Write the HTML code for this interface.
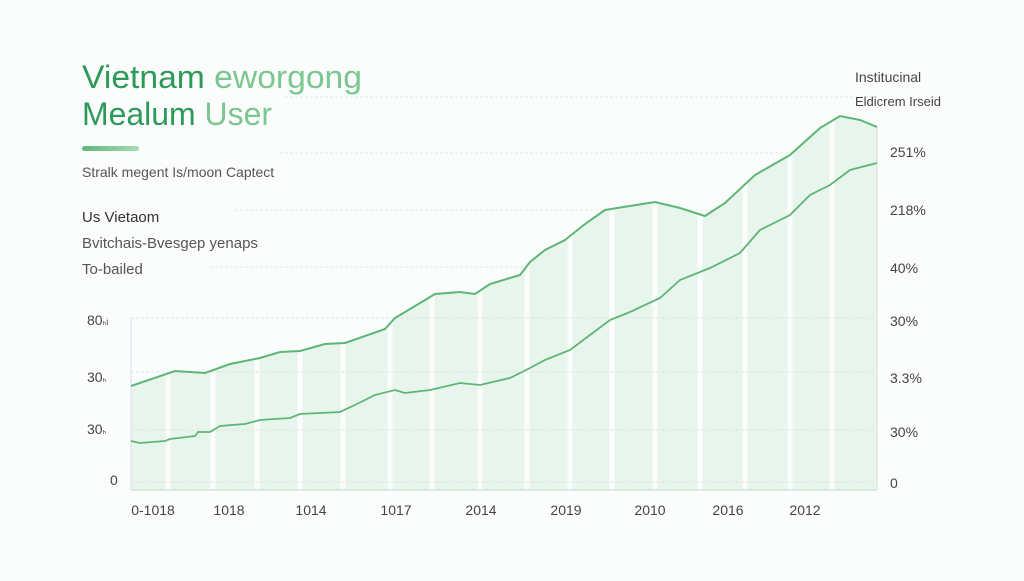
<!DOCTYPE html>
<html><head><meta charset="utf-8"><style>
body{margin:0;width:1024px;height:576px;background:#fbfcfc;overflow:hidden;font-family:"Liberation Sans",sans-serif}
</style></head><body>
<svg width="1024" height="576" viewBox="0 0 1024 576" xmlns="http://www.w3.org/2000/svg" font-family="Liberation Sans, sans-serif">
<defs><linearGradient id="g" x1="0" x2="1"><stop offset="0" stop-color="#5fb878"/><stop offset="1" stop-color="#a8dcb4"/></linearGradient>
<clipPath id="c"><path d="M131,386 L175,371 L205,373 L230,364 L260,358 L280,352 L300,351 L325,344 L345,343 L385,329 L395,318 L435,294 L460,292 L475,294 L490,284 L520,275 L530,262 L545,250 L565,240 L585,224 L605,210 L655,202 L680,208 L705,216 L725,203 L755,175 L790,155 L820,128 L840,116 L860,120 L877,127 L877,490 L131,490Z"/></clipPath></defs>
<text x="82" y="88" font-size="32" fill="#2e9a5a" textLength="280" lengthAdjust="spacingAndGlyphs">Vietnam <tspan fill="#7cc68f">eworgong</tspan></text>
<text x="82" y="125" font-size="32" fill="#2e9a5a" textLength="190" lengthAdjust="spacingAndGlyphs">Mealum <tspan fill="#7cc68f">User</tspan></text>
<rect x="82" y="146" width="57" height="5" rx="2.5" fill="url(#g)"/>
<text x="82" y="177" font-size="14" fill="#555">Stralk megent Is/moon Captect</text>
<text x="82" y="222" font-size="15" fill="#333">Us Vietaom</text>
<text x="82" y="248" font-size="15" fill="#555">Bvitchais-Bvesgep yenaps</text>
<text x="82" y="274" font-size="15" fill="#555">To-bailed</text>
<g stroke="#e6e8e8" stroke-dasharray="3 2" stroke-width="1">
<line x1="285" y1="97" x2="877" y2="97"/><line x1="280" y1="153" x2="877" y2="153"/><line x1="235" y1="210" x2="877" y2="210"/><line x1="210" y1="267" x2="877" y2="267"/>
</g>
<rect x="131" y="100" width="746" height="390" fill="#e8f5ec" clip-path="url(#c)"/>
<g stroke="#fbfcfc" stroke-width="5" clip-path="url(#c)">
<line x1="168" y1="100" x2="168" y2="490"/><line x1="213" y1="100" x2="213" y2="490"/><line x1="257" y1="100" x2="257" y2="490"/><line x1="300" y1="100" x2="300" y2="490"/><line x1="343" y1="100" x2="343" y2="490"/><line x1="390" y1="100" x2="390" y2="490"/><line x1="432" y1="100" x2="432" y2="490"/><line x1="480" y1="100" x2="480" y2="490"/><line x1="527" y1="100" x2="527" y2="490"/><line x1="570" y1="100" x2="570" y2="490"/><line x1="612" y1="100" x2="612" y2="490"/><line x1="655" y1="100" x2="655" y2="490"/><line x1="700" y1="100" x2="700" y2="490"/><line x1="745" y1="100" x2="745" y2="490"/><line x1="790" y1="100" x2="790" y2="490"/><line x1="832" y1="100" x2="832" y2="490"/>
</g>
<g stroke="#e2e4e4" stroke-dasharray="3 2"><line x1="131" y1="318" x2="877" y2="318"/><line x1="131" y1="372" x2="877" y2="372"/><line x1="131" y1="430" x2="877" y2="430"/><line x1="131" y1="482" x2="877" y2="482"/></g>
<line x1="131" y1="318" x2="131" y2="490" stroke="#dde"/>
<line x1="131" y1="490" x2="877" y2="490" stroke="#cfe5d6" stroke-width="1.5"/>
<line x1="877" y1="127" x2="877" y2="490" stroke="#cfe5d6"/>
<path d="M131,386 L175,371 L205,373 L230,364 L260,358 L280,352 L300,351 L325,344 L345,343 L385,329 L395,318 L435,294 L460,292 L475,294 L490,284 L520,275 L530,262 L545,250 L565,240 L585,224 L605,210 L655,202 L680,208 L705,216 L725,203 L755,175 L790,155 L820,128 L840,116 L860,120 L877,127" fill="none" stroke="#5fb577" stroke-width="2"/>
<path d="M131,441 L140,443 L165,441 L170,439 L195,436 L198,432 L210,432 L220,426 L245,424 L260,420 L290,418 L300,414 L340,412 L355,405 L375,395 L395,390 L405,393 L430,390 L460,383 L480,385 L510,378 L530,368 L545,360 L570,350 L590,335 L610,320 L630,312 L660,298 L680,280 L710,268 L740,253 L760,230 L790,215 L810,195 L830,185 L850,170 L877,163" fill="none" stroke="#5fb577" stroke-width="1.8"/>
<g font-size="14" fill="#444">
<text x="855" y="82">Institucinal</text><text x="855" y="106" font-size="13">Eldicrem Irseid</text>
<text x="890" y="157">251%</text><text x="890" y="215">218%</text><text x="890" y="273">40%</text><text x="890" y="326">30%</text><text x="890" y="383">3.3%</text><text x="890" y="437">30%</text><text x="890" y="488">0</text>
<text x="87" y="325">80<tspan font-size="9">ₕi</tspan></text><text x="87" y="382">30<tspan font-size="9">ₕ</tspan></text><text x="87" y="434">30<tspan font-size="9">ₕ</tspan></text><text x="110" y="485">0</text>
<g text-anchor="middle"><text x="153" y="515">0-1018</text><text x="229" y="515">1018</text><text x="311" y="515">1014</text><text x="396" y="515">1017</text><text x="481" y="515">2014</text><text x="566" y="515">2019</text><text x="650" y="515">2010</text><text x="728" y="515">2016</text><text x="805" y="515">2012</text></g>
</g>
</svg>
</body></html>
